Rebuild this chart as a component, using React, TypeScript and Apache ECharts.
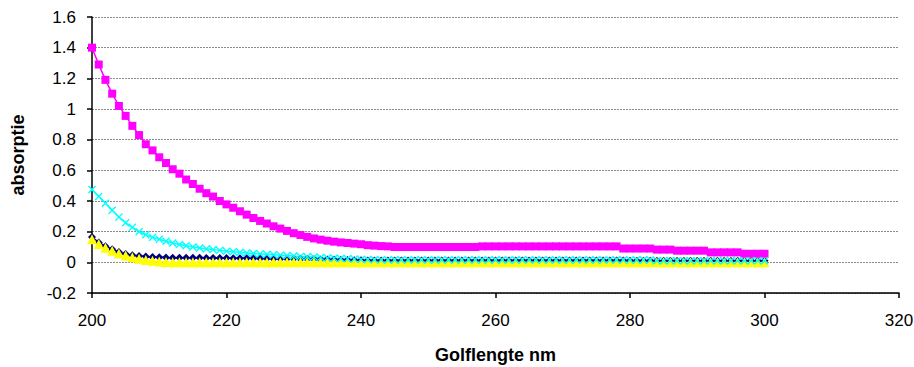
import React, { useEffect, useRef } from "react";
import * as echarts from "echarts";

// Wavelengths 200..300 nm (1 nm step)
const wavelengths: number[] = [];
for (let w = 200; w <= 300; w++) wavelengths.push(w);

// Series 1 (navy, diamonds)
const navy: number[] = [
  0.165, 0.13, 0.105, 0.085, 0.068, 0.055, 0.047, 0.042, 0.038, 0.035,
  0.033, 0.031, 0.03, 0.03, 0.03, 0.03, 0.03, 0.029, 0.029, 0.028,
  0.028, 0.027, 0.027, 0.026, 0.026, 0.025, 0.025, 0.024, 0.024, 0.023,
  0.023, 0.022, 0.021, 0.02, 0.019, 0.018, 0.017, 0.016, 0.015, 0.014,
  0.013, 0.012, 0.012, 0.012, 0.012, 0.012, 0.012, 0.012, 0.012, 0.012,
  0.012, 0.012, 0.012, 0.012, 0.012, 0.012, 0.012, 0.012, 0.012, 0.012,
  0.012, 0.012, 0.012, 0.012, 0.012, 0.012, 0.012, 0.012, 0.012, 0.012,
  0.012, 0.012, 0.012, 0.012, 0.012, 0.012, 0.012, 0.012, 0.012, 0.012,
  0.011, 0.011, 0.011, 0.011, 0.011, 0.011, 0.011, 0.011, 0.011, 0.011,
  0.011, 0.011, 0.011, 0.011, 0.011, 0.011, 0.011, 0.011, 0.011, 0.011,
  0.011,
];

// Series 2 (magenta, squares)
const magenta: number[] = [
  1.4, 1.29, 1.19, 1.1, 1.02, 0.955, 0.89, 0.83, 0.77, 0.73,
  0.685, 0.648, 0.607, 0.578, 0.54, 0.511, 0.48, 0.451, 0.429, 0.4,
  0.378, 0.356, 0.333, 0.311, 0.289, 0.27, 0.253, 0.235, 0.22, 0.205,
  0.19, 0.178, 0.166, 0.156, 0.148, 0.141, 0.135, 0.13, 0.126, 0.122,
  0.118, 0.112, 0.109, 0.106, 0.104, 0.1, 0.1, 0.1, 0.1, 0.1,
  0.1, 0.1, 0.1, 0.1, 0.1, 0.1, 0.1, 0.1, 0.104, 0.104,
  0.104, 0.104, 0.104, 0.104, 0.104, 0.104, 0.104, 0.104, 0.104, 0.104,
  0.104, 0.104, 0.104, 0.104, 0.104, 0.104, 0.104, 0.104, 0.104, 0.09,
  0.09, 0.09, 0.09, 0.09, 0.083, 0.083, 0.083, 0.076, 0.076, 0.076,
  0.076, 0.076, 0.065, 0.065, 0.065, 0.065, 0.065, 0.056, 0.056, 0.056,
  0.056,
];

// Series 3 (yellow, triangles)
const yellow: number[] = [
  0.15, 0.12, 0.095, 0.075, 0.058, 0.045, 0.033, 0.024, 0.016, 0.01,
  0.005, 0.002, 0.0, 0.0, 0.0, 0.0, 0.0, 0.0, 0.0, 0.0,
  0.0, 0.0, 0.0, 0.0, 0.0, 0.0, 0.0, 0.0, 0.0, 0.0,
  0.0, 0.0, 0.0, 0.0, 0.0, 0.0, 0.0, 0.0, 0.0, 0.0,
  0.0, 0.0, 0.0, 0.0, 0.0, 0.0, 0.0, 0.0, 0.0, 0.0,
  0.0, 0.0, 0.0, 0.0, 0.0, 0.0, 0.0, 0.0, 0.0, 0.0,
  0.0, 0.0, 0.0, 0.0, 0.0, 0.0, 0.0, 0.0, 0.0, 0.0,
  0.0, 0.0, 0.0, 0.0, 0.0, 0.0, 0.0, 0.0, 0.0, 0.0,
  0.0, 0.0, 0.0, 0.0, 0.0, 0.0, 0.0, 0.0, 0.0, 0.0,
  0.0, 0.0, 0.0, 0.0, 0.0, 0.0, 0.0, 0.0, 0.0, 0.0,
  0.0,
];

// Series 4 (cyan, crosses)
const cyan: number[] = [
  0.475, 0.43, 0.385, 0.34, 0.295, 0.258, 0.228, 0.2, 0.18, 0.163,
  0.15, 0.138, 0.126, 0.116, 0.108, 0.1, 0.094, 0.088, 0.083, 0.078,
  0.073, 0.069, 0.065, 0.061, 0.058, 0.055, 0.052, 0.05, 0.047, 0.044,
  0.041, 0.038, 0.036, 0.034, 0.031, 0.029, 0.027, 0.025, 0.023, 0.021,
  0.019, 0.018, 0.017, 0.016, 0.015, 0.015, 0.015, 0.015, 0.015, 0.015,
  0.015, 0.015, 0.015, 0.015, 0.015, 0.015, 0.015, 0.015, 0.015, 0.015,
  0.015, 0.015, 0.015, 0.015, 0.015, 0.015, 0.015, 0.015, 0.015, 0.015,
  0.015, 0.015, 0.015, 0.015, 0.015, 0.015, 0.015, 0.015, 0.015, 0.015,
  0.015, 0.015, 0.015, 0.015, 0.01, 0.01, 0.01, 0.01, 0.01, 0.01,
  0.01, 0.01, 0.01, 0.01, 0.01, 0.01, 0.01, 0.01, 0.01, 0.01,
  0.01,
];

const xTicks = [200, 220, 240, 260, 280, 300, 320];
const yTicks = [-0.2, 0, 0.2, 0.4, 0.6, 0.8, 1, 1.2, 1.4, 1.6];

const xName = "Golflengte nm";
const yName = "absorptie";

const CROSS =
  "path://M0,1.2L1.2,0L5,3.8L8.8,0L10,1.2L6.2,5L10,8.8L8.8,10L5,6.2L1.2,10L0,8.8L3.8,5Z";

const FONT = "'Liberation Sans', Arial, sans-serif";

function pairs(ys: number[]) {
  return wavelengths.map((w, i) => [w, ys[i]]);
}

export default function App() {
  const ref = useRef<HTMLDivElement>(null);
  useEffect(() => {
    document.body.style.margin = "0";
    if (!ref.current) return;
    const chart = echarts.init(ref.current, undefined, { renderer: "svg" });
    const mk = (
      name: string,
      ys: number[],
      color: string,
      symbol: string,
      size: number
    ) => ({
      name,
      type: "line",
      data: pairs(ys),
      symbol,
      symbolSize: size,
      showSymbol: true,
      showAllSymbol: true,
      lineStyle: { color, width: 1.5 },
      itemStyle: { color, borderWidth: 0 },
      emphasis: { disabled: true },
    });
    chart.setOption({
      animation: false,
      grid: {
        left: 92,
        right: 15,
        top: 17,
        bottom: 74,
        containLabel: false,
        outerBoundsMode: "none",
      },
      xAxis: {
        type: "value",
        min: xTicks[0],
        max: xTicks[xTicks.length - 1],
        interval: 20,
        name: xName,
        nameLocation: "middle",
        nameGap: 53,
        nameTextStyle: { fontFamily: FONT, fontSize: 18, fontWeight: "bold", color: "#000" },
        axisLine: { onZero: false, lineStyle: { color: "#000", width: 1.5 } },
        axisTick: { show: true, inside: false, length: 5, lineStyle: { color: "#000", width: 1.5 } },
        axisLabel: { fontFamily: FONT, fontSize: 17, color: "#000", margin: 19 },
        splitLine: { show: false },
      },
      yAxis: {
        type: "value",
        min: yTicks[0],
        max: yTicks[yTicks.length - 1],
        interval: 0.2,
        name: yName,
        nameLocation: "middle",
        nameGap: 65,
        nameRotate: 90,
        nameTextStyle: { fontFamily: FONT, fontSize: 18, fontWeight: "bold", color: "#000" },
        axisLine: { show: true, onZero: false, lineStyle: { color: "#000", width: 1.5 } },
        axisTick: { show: true, inside: false, length: 5, lineStyle: { color: "#000", width: 1.5 } },
        axisLabel: {
          fontFamily: FONT,
          fontSize: 17,
          color: "#000",
          margin: 16,
          formatter: (v: number) => String(parseFloat(v.toFixed(1))),
        },
        splitLine: { show: true, lineStyle: { color: "#8a8a8a", width: 1, type: [2, 1] } },
      },
      series: [
        mk("Series1", navy, "#000080", "diamond", 8),
        mk("Series2", magenta, "#FF00FF", "rect", 8),
        mk("Series3", yellow, "#FFFF00", "triangle", 10),
        mk("Series4", cyan, "#00FFFF", CROSS, 8),
      ],
    });
    return () => chart.dispose();
  }, []);
  return <div ref={ref} style={{ width: 914, height: 367 }} />;
}
